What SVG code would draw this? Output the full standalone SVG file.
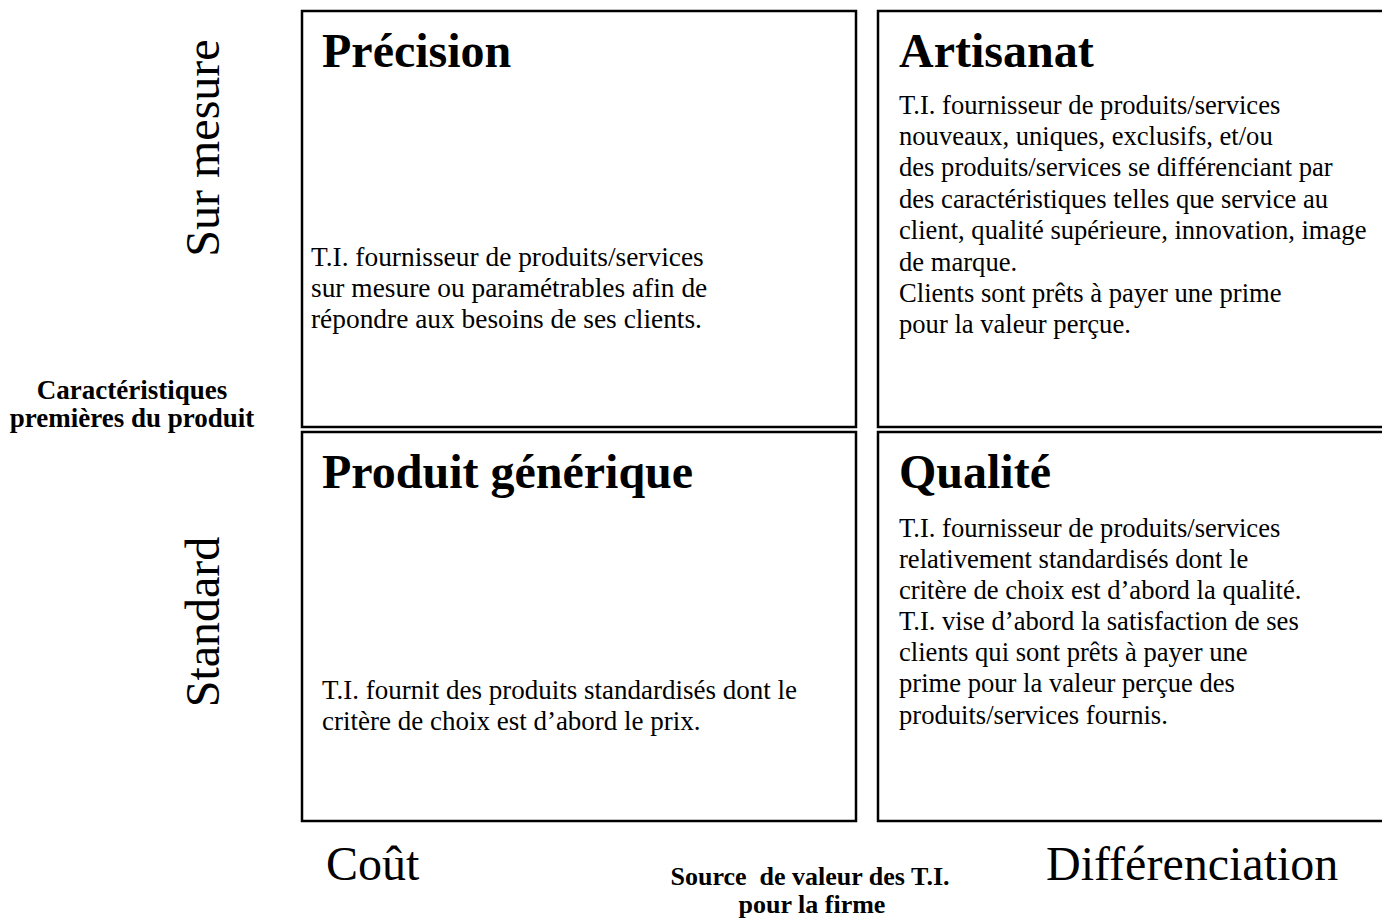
<svg xmlns="http://www.w3.org/2000/svg" width="1382" height="919" viewBox="0 0 1382 919">
<style>
.box{fill:#fff;stroke:#000;stroke-width:2.5}
.title{font-family:"Liberation Serif",serif;font-weight:bold;font-size:48px;fill:#000}
.body{font-family:"Liberation Serif",serif;font-size:26.6px;fill:#000}
.axis{font-family:"Liberation Serif",serif;font-size:48px;fill:#000}
.lbl{font-family:"Liberation Serif",serif;font-weight:bold;font-size:27px;fill:#000;text-anchor:middle;white-space:pre}
</style>
<rect width="1382" height="919" fill="#fff"/>
<g id="precision">
<rect class="box" x="302" y="11" width="554" height="416"/>
<text class="title" x="322" y="67">Précision</text>
<text class="body" style="font-size:27.4px"><tspan x="311" y="266">T.I. fournisseur de produits/services</tspan><tspan x="311" y="297">sur mesure ou paramétrables afin de</tspan><tspan x="311" y="328">répondre aux besoins de ses clients.</tspan></text>
</g>
<g id="artisanat">
<rect class="box" x="878" y="11" width="530" height="416"/>
<text class="title" x="899" y="67">Artisanat</text>
<text class="body"><tspan x="899" y="114">T.I. fournisseur de produits/services</tspan><tspan x="899" y="145">nouveaux, uniques, exclusifs, et/ou</tspan><tspan x="899" y="176">des produits/services se différenciant par</tspan><tspan x="899" y="208">des caractéristiques telles que service au</tspan><tspan x="899" y="239">client, qualité supérieure, innovation, image</tspan><tspan x="899" y="271">de marque.</tspan><tspan x="899" y="302">Clients sont prêts à payer une prime</tspan><tspan x="899" y="333">pour la valeur perçue.</tspan></text>
</g>
<g id="generique">
<rect class="box" x="302" y="432" width="554" height="389"/>
<text class="title" x="322" y="488">Produit générique</text>
<text class="body" style="font-size:27px"><tspan x="322" y="699">T.I. fournit des produits standardisés dont le</tspan><tspan x="322" y="730">critère de choix est d’abord le prix.</tspan></text>
</g>
<g id="qualite">
<rect class="box" x="878" y="432" width="530" height="389"/>
<text class="title" x="899" y="488">Qualité</text>
<text class="body"><tspan x="899" y="537">T.I. fournisseur de produits/services</tspan><tspan x="899" y="568">relativement standardisés dont le</tspan><tspan x="899" y="599">critère de choix est d’abord la qualité.</tspan><tspan x="899" y="630">T.I. vise d’abord la satisfaction de ses</tspan><tspan x="899" y="661">clients qui sont prêts à payer une</tspan><tspan x="899" y="692">prime pour la valeur perçue des</tspan><tspan x="899" y="724">produits/services fournis.</tspan></text>
</g>
<g id="axis-y">
<text class="axis" text-anchor="middle" transform="translate(219,148) rotate(-90)">Sur mesure</text>
<text class="axis" text-anchor="middle" transform="translate(219,622) rotate(-90)">Standard</text>
<text class="lbl" x="132" y="399">Caractéristiques</text>
<text class="lbl" x="132" y="427">premières du produit</text>
</g>
<g id="axis-x">
<text class="axis" x="326" y="880">Coût</text>
<text class="axis" x="1046" y="880">Différenciation</text>
<text class="lbl" style="font-size:26px" x="810" y="885">Source  de valeur des T.I.</text>
<text class="lbl" style="font-size:26px" x="812" y="913">pour la firme</text>
</g>
<g id="connectors"/>
</svg>
